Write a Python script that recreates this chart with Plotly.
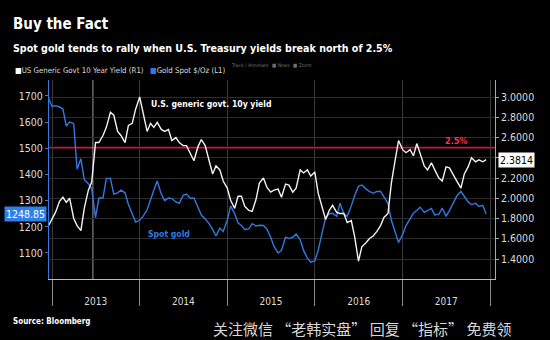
import pandas as pd
import plotly.graph_objects as go

# Semi-monthly observations, mid-Dec 2012 through mid-Dec 2017
dates = pd.date_range("2012-12-15", periods=121, freq="SMS")

gold_spot = [
    1695, 1660, 1663, 1658, 1650, 1585, 1600, 1595, 1420, 1460,
    1380, 1365, 1345, 1235, 1310, 1310, 1385, 1385, 1325, 1330,
    1340, 1330, 1285, 1245, 1218, 1225, 1240, 1265, 1305, 1340,
    1375, 1325, 1300, 1310, 1308, 1295, 1290, 1320, 1325, 1308,
    1310, 1272, 1245, 1230, 1215, 1190, 1165, 1195, 1182, 1225,
    1280, 1250, 1215, 1205, 1190, 1192, 1212, 1203, 1206, 1205,
    1192, 1160, 1125, 1100, 1110, 1160, 1155, 1160, 1172, 1150,
    1110, 1080, 1065, 1070, 1110, 1180, 1235, 1250, 1252, 1240,
    1290, 1250, 1240, 1280, 1320, 1355, 1360, 1345, 1335, 1328,
    1335, 1335, 1315, 1290, 1225, 1175, 1140, 1170, 1205, 1230,
    1252, 1262, 1275, 1255, 1262, 1270, 1245, 1248, 1272, 1240,
    1262, 1290, 1318, 1335, 1315, 1295, 1285, 1290, 1278, 1282,
    1248.85,
]

us_10y_yield = [
    1.72, 1.80, 1.86, 1.97, 2.01, 1.96, 2.00, 1.80, 1.73, 1.68,
    1.90, 2.08, 2.16, 2.55, 2.55, 2.62, 2.70, 2.85, 2.82, 2.66,
    2.62, 2.55, 2.72, 2.74, 2.88, 3.00, 2.84, 2.66, 2.74, 2.70,
    2.75, 2.68, 2.66, 2.68, 2.57, 2.60, 2.55, 2.52, 2.52, 2.44,
    2.37, 2.51, 2.58, 2.52, 2.40, 2.24, 2.32, 2.28, 2.17, 2.10,
    1.98, 1.90, 2.02, 2.02, 1.92, 1.88, 1.87, 1.99, 2.15, 2.20,
    2.11, 2.06, 2.08, 2.09, 2.01, 2.14, 2.13, 2.06, 2.10, 2.28,
    2.25, 2.28, 2.22, 2.26, 2.05, 1.91, 1.79, 1.88, 1.93, 1.86,
    1.85, 1.85, 1.76, 1.78, 1.62, 1.38, 1.52, 1.56, 1.60, 1.63,
    1.67, 1.73, 1.81, 1.85, 2.15, 2.38, 2.57, 2.48, 2.45, 2.48,
    2.42, 2.54, 2.45, 2.32, 2.28, 2.35, 2.28, 2.20, 2.17, 2.31,
    2.30, 2.22, 2.17, 2.10, 2.24, 2.31, 2.40, 2.36, 2.38, 2.36,
    2.3814,
]

gold_ticks = [1100, 1200, 1300, 1400, 1500, 1600, 1700]
yield_ticks = [1.4, 1.6, 1.8, 2.0, 2.2, 2.4, 2.6, 2.8, 3.0]
year_labels = ["2013", "2014", "2015", "2016", "2017"]
year_mids = ["2013-07-02", "2014-07-02", "2015-07-02", "2016-07-02", "2017-07-02"]
threshold = 2.5

BLUE = "#3479e0"
WHITE = "#f2f2f2"
RED = "#c8163f"
NARROW = "DejaVu Sans Condensed, sans-serif"

# the last-value tag on the right covers the 2.4 label, so that label is left blank
yield_ticktext = ["" if abs(v - 2.4) < 1e-9 else f"{v:.4f}" for v in yield_ticks]

fig = go.Figure()
fig.add_trace(go.Scatter(x=dates, y=gold_spot, mode="lines", yaxis="y",
                         line=dict(color=BLUE, width=1.4), showlegend=False))
fig.add_trace(go.Scatter(x=dates, y=us_10y_yield, mode="lines", yaxis="y2",
                         line=dict(color=WHITE, width=1.4), showlegend=False))

# 2.5% threshold line
fig.add_shape(type="line", xref="paper", x0=0, x1=1, yref="y2", y0=threshold, y1=threshold,
              line=dict(color=RED, width=1.6), layer="below")
# marker line in mid-2013
fig.add_shape(type="line", xref="x", x0="2013-06-20", x1="2013-06-20", yref="paper", y0=0, y1=1,
              line=dict(color="#9a9a9a", width=1), layer="below")


def px_x(px):
    return (px - 49) / 446


def px_y(py):
    return (279 - py) / 199


def note(text, x, y, size, color, anchor="left", bold=False, family=NARROW):
    return dict(text=f"<b>{text}</b>" if bold else text, x=px_x(x), y=px_y(y),
                xref="paper", yref="paper", xanchor=anchor, yanchor="middle",
                showarrow=False, font=dict(family=family, size=size, color=color))


ann = [
    note("Buy the Fact", 11, 24, 15, "white", bold=True),
    note("Spot gold tends to rally when U.S. Treasury yields break north of 2.5%", 11, 48, 10.6,
         "white", bold=True),
    note("<span style='color:#ffffff'>■</span>US Generic Govt 10 Year Yield (R1)", 13, 71, 7.8,
         "#dddddd"),
    note(f"<span style='color:{BLUE}'>■</span>Gold Spot $/Oz (L1)", 148, 71, 7.8, "#dddddd"),
    note("Track", 229, 65, 5, "#707070"),
    note("/ Annotate", 243, 65, 5, "#707070"),
    note("■ News", 270, 65, 5, "#707070"),
    note("■ Zoom", 291, 65, 5, "#707070"),
    note("Source: Bloomberg", 11, 321, 8, "white", bold=True),
    note("关注微信 “老韩实盘” 回复 “指标” 免费领", 513, 328, 15, "#d8d8d8", anchor="right",
         family="Noto Sans CJK SC"),
]

# in-plot series labels
ann.append(dict(text="<b>U.S. generic govt. 10y yield</b>", x="2014-02-10", y=2.93, xref="x", yref="y2",
                xanchor="left", yanchor="middle", showarrow=False,
                font=dict(family=NARROW, size=8.6, color="white")))
ann.append(dict(text="<b>Spot gold</b>", x="2014-01-28", y=1172, xref="x", yref="y",
                xanchor="left", yanchor="middle", showarrow=False,
                font=dict(family=NARROW, size=8.6, color=BLUE)))
ann.append(dict(text="<b>2.5%</b>", x="2017-08-10", y=threshold, xref="x", yref="y2",
                xanchor="center", yanchor="bottom", yshift=0, showarrow=False,
                font=dict(family=NARROW, size=9, color="#ff2d55")))

# last-value tags
ann.append(dict(text=f"{gold_spot[-1]:.2f}", x=0, y=gold_spot[-1], xref="paper", yref="y",
                xanchor="right", yanchor="middle", xshift=-2, showarrow=False,
                bgcolor="#2f7fe6", borderpad=1,
                font=dict(family=NARROW, size=10.5, color="white")))
ann.append(dict(text=f"{us_10y_yield[-1]:.4f}", x=1, y=us_10y_yield[-1], xref="paper", yref="y2",
                xanchor="left", yanchor="middle", xshift=3, showarrow=False,
                bgcolor="white", borderpad=1,
                font=dict(family=NARROW, size=10.5, color="black")))

fig.update_layout(
    width=550, height=340,
    margin=dict(l=49, r=55, t=80, b=61),
    paper_bgcolor="black", plot_bgcolor="black",
    annotations=ann,
    xaxis=dict(
        type="date", range=["2012-12-19", "2018-01-21"],
        tickvals=year_mids, ticktext=year_labels, ticks="", ticklabelstandoff=13,
        tickfont=dict(family=NARROW, size=10, color="#dddddd"),
        showgrid=False, showline=True, linecolor="#bbbbbb", linewidth=1,
        zeroline=False,
        minor=dict(tick0="2013-01-01", dtick="M12", ticks="outside", ticklen=26,
                   tickcolor="#8a8a8a", tickwidth=1, showgrid=True, gridcolor="#3a3a3a"),
    ),
    yaxis=dict(
        range=[1000.6, 1761], tickvals=gold_ticks, ticks="outside", ticklen=3,
        tickcolor=BLUE, showline=True, linecolor=BLUE, linewidth=1,
        showgrid=False, zeroline=False,
        tickfont=dict(family=NARROW, size=10.5, color="#dddddd"),
    ),
    yaxis2=dict(
        overlaying="y", side="right", range=[1.2025, 3.168], tickvals=yield_ticks,
        ticktext=yield_ticktext, ticks="outside", ticklen=3, tickcolor="#aaaaaa",
        showline=True, linecolor="#aaaaaa", linewidth=1,
        showgrid=True, gridcolor="#2c2c2c", zeroline=False,
        tickfont=dict(family=NARROW, size=10.5, color="#dddddd"),
    ),
)

fig.write_html("out.html")
